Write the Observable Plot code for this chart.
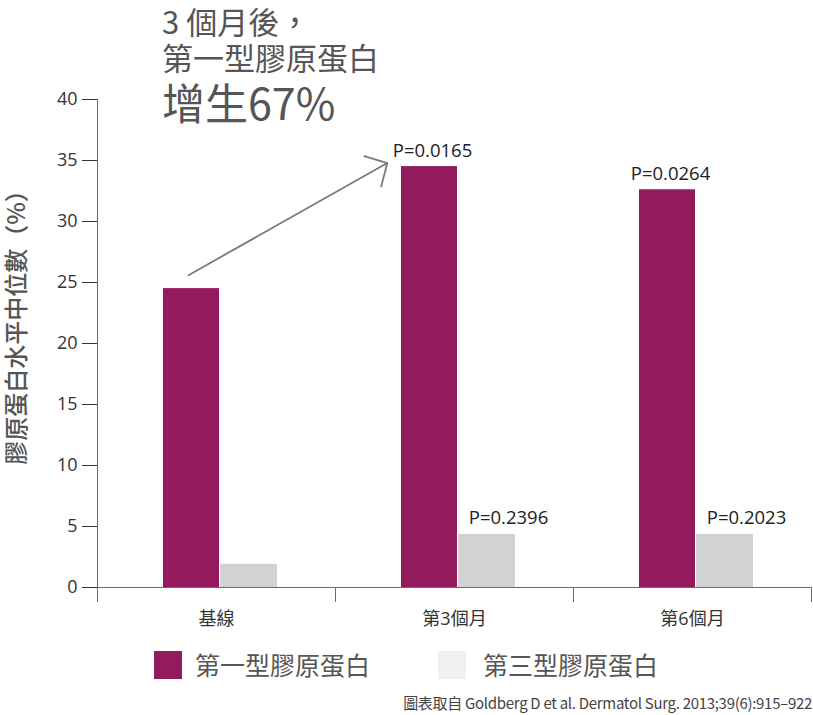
<!DOCTYPE html>
<html><head><meta charset="utf-8">
<script src="https://cdn.jsdelivr.net/npm/d3@7"></script>
<script src="https://cdn.jsdelivr.net/npm/@observablehq/plot@0.6"></script>
<style>
body{margin:0;background:#fff;}
#wrap{position:relative;width:813px;height:715px;overflow:hidden;font-family:"Open Sans","Noto Sans CJK TC",sans-serif;}
#chart{position:absolute;left:0;top:0;}
.head{position:absolute;left:162px;color:#555;font-family:"Noto Sans CJK TC",sans-serif;white-space:nowrap;}
.sw{position:absolute;width:28px;height:28px;top:651px;}
.lt{position:absolute;top:646px;font-size:25px;line-height:36px;color:#555;font-family:"Noto Sans CJK TC",sans-serif;white-space:nowrap;}
#cap{position:absolute;right:1px;top:692px;font-size:15px;line-height:22px;color:#444;font-family:"Noto Sans CJK TC",sans-serif;letter-spacing:-0.3px;white-space:nowrap;}
</style></head><body>
<div id="wrap">
  <div id="chart"></div>
  <div class="head" style="top:3px;font-size:31px;line-height:35.5px;">3 個月後，<br>第一型膠原蛋白</div>
  <div class="head" style="top:78px;font-size:43px;line-height:46px;font-weight:400;">增生67%</div>
  <div class="sw" id="sw1" style="left:154px;"></div>
  <div class="lt" id="lt1" style="left:195px;"></div>
  <div class="sw" id="sw2" style="left:438px;"></div>
  <div class="lt" id="lt2" style="left:483px;"></div>
  <div id="cap">圖表取自 Goldberg D et al. Dermatol Surg. 2013;39(6):915–922</div>
</div>
<script>
const categories = ["基線", "第3個月", "第6個月"];
const seriesNames = ["第一型膠原蛋白", "第三型膠原蛋白"];
const type1Values = [24.5, 34.5, 32.6];
const type3Values = [1.9, 4.35, 4.35];
const type1PLabels = ["", "P=0.0165", "P=0.0264"];
const type3PLabels = ["", "P=0.2396", "P=0.2023"];
const yTicks = [0, 5, 10, 15, 20, 25, 30, 35, 40];
const yLabel = "膠原蛋白水平中位數（%）";
const arrowFrom = {category: "基線", value: 25.6};
const arrowTo = {category: "第3個月", value: 36.6};

const purple = "#931a5c";
const gray = "#d1d2d4";
const legendGray = "#f0f0f0";

const t1 = categories.map((c, i) => ({category: c, value: type1Values[i], p: type1PLabels[i]}));
const t3 = categories.map((c, i) => ({category: c, value: type3Values[i], p: type3PLabels[i]}));
const axisColor = "#6b6b6b";
const tickBottom = -1.23;

const chart = Plot.plot({
  width: 813,
  height: 640,
  marginLeft: 97,
  marginRight: 2,
  marginTop: 99,
  marginBottom: 53,
  style: {fontFamily: '"Open Sans","Noto Sans CJK TC",sans-serif', fontSize: "18px", color: "#333", background: "#fff"},
  x: {domain: categories, padding: 0, tickSize: 0, tickPadding: 25, label: null},
  y: {domain: [0, 40], ticks: yTicks, tickSize: 15, tickPadding: 5, label: null},
  marks: [
    Plot.barY(t1, {x: "category", y: "value", fill: purple, insetLeft: 66, insetRight: 116}),
    Plot.barY(t3, {x: "category", y: "value", fill: gray, insetLeft: 123, insetRight: 58}),
    Plot.ruleY([0], {stroke: axisColor}),
    Plot.ruleX([categories[0]], {x: d => d, y1: 40, y2: tickBottom, dx: -119, stroke: axisColor}),
    Plot.ruleX(categories.slice(1), {x: d => d, y1: 0, y2: tickBottom, dx: -119, stroke: axisColor}),
    Plot.ruleX([categories[categories.length - 1]], {x: d => d, y1: 0, y2: tickBottom, dx: 119, stroke: axisColor}),
    Plot.arrow([{from: arrowFrom, to: arrowTo}], {
      x1: d => d.from.category, y1: d => d.from.value,
      x2: d => d.to.category, y2: d => d.to.value,
      dx: -28, insetEnd: 45, stroke: "#7a7a7a", strokeWidth: 1.8, headAngle: 92, headLength: 20
    }),
    Plot.text(t1.filter(d => d.p), {x: "category", y: "value", text: "p", dx: -22, dy: -16, fontSize: 18.5, fill: "#222"}),
    Plot.text(t3.filter(d => d.p), {x: "category", y: "value", text: "p", dx: 54, dy: -16, fontSize: 18.5, fill: "#222"}),
    Plot.text([yLabel], {frameAnchor: "left", text: d => d, rotate: -90, textAnchor: "middle", dx: -80, dy: -22, fontSize: 24, fontWeight: 500, fill: "#555", fontFamily: '"Noto Sans CJK TC",sans-serif', letterSpacing: "1.3px"})
  ]
});
document.getElementById("chart").appendChild(chart);
document.getElementById("sw1").style.background = purple;
document.getElementById("sw2").style.background = legendGray;
document.getElementById("lt1").textContent = seriesNames[0];
document.getElementById("lt2").textContent = seriesNames[1];
</script>
</body></html>
